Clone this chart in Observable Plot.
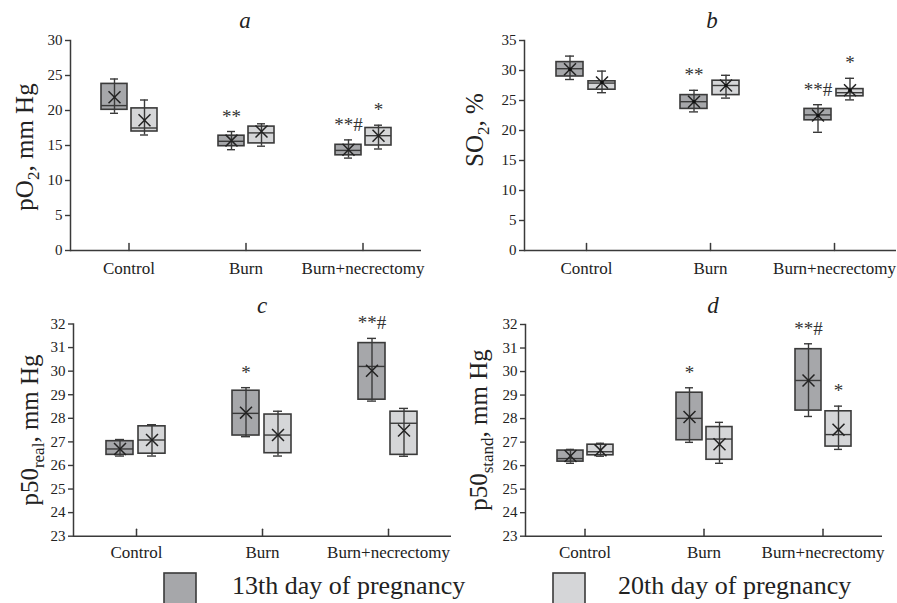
<!DOCTYPE html>
<html>
<head>
<meta charset="utf-8">
<script src="https://cdn.jsdelivr.net/npm/d3@7"></script>
<script src="https://cdn.jsdelivr.net/npm/@observablehq/plot@0.6"></script>
<style>
  html, body { margin: 0; padding: 0; background: #fff; overflow: hidden; }
  #fig { position: relative; width: 897px; height: 603px; overflow: hidden; font-family: "Liberation Serif", serif; }
  .pane { position: absolute; width: 470px; }
  .pane svg { max-width: none !important; }
  #overlay { position: absolute; left: 0; top: 0; pointer-events: none; }
</style>
</head>
<body>
<div id="fig"></div>
<script>
// ---------- data ----------
const groups = ["Control", "Burn", "Burn+necrectomy"];
const series = ["13th day of pregnancy", "20th day of pregnancy"];
// each row: [min, q1, median, q3, max, mean] for Control, Burn, Burn+necrectomy
const pO2_d13 = [[19.6, 20.1, 20.7, 23.8, 24.5, 21.9], [14.4, 14.9, 15.6, 16.4, 17.0, 15.7], [13.2, 13.6, 14.3, 15.1, 15.8, 14.4]];
const pO2_d20 = [[16.5, 17.0, 17.5, 20.3, 21.5, 18.6], [14.9, 15.3, 16.8, 17.7, 18.1, 17.0], [14.5, 15.0, 16.4, 17.5, 17.9, 16.4]];
const pO2_notes13 = ["", "**", "**#"];
const pO2_notes20 = ["", "", "*"];

const SO2_d13 = [[28.5, 29.0, 30.3, 31.4, 32.4, 30.2], [23.1, 23.6, 24.8, 25.9, 26.7, 24.8], [19.7, 21.7, 22.6, 23.6, 24.3, 22.5]];
const SO2_d20 = [[26.3, 26.8, 27.9, 28.2, 29.9, 28.0], [25.4, 25.9, 27.5, 28.3, 29.2, 27.5], [25.1, 25.7, 26.3, 26.9, 28.7, 26.7]];
const SO2_notes13 = ["", "**", "**#"];
const SO2_notes20 = ["", "", "*"];

const p50real_d13 = [[26.4, 26.45, 26.7, 27.03, 27.1, 26.7], [27.22, 27.27, 28.21, 29.17, 29.3, 28.24], [28.73, 28.79, 30.2, 31.19, 31.39, 30.02]];
const p50real_d20 = [[26.4, 26.5, 27.08, 27.66, 27.73, 27.08], [26.4, 26.52, 27.29, 28.16, 28.3, 27.29], [26.39, 26.45, 27.79, 28.28, 28.42, 27.48]];
const p50real_notes13 = ["", "*", "**#"];
const p50real_notes20 = ["", "", ""];

const p50stand_d13 = [[26.1, 26.17, 26.3, 26.64, 26.69, 26.41], [26.99, 27.08, 28.01, 29.1, 29.31, 28.07], [28.09, 28.34, 29.62, 30.95, 31.18, 29.62]];
const p50stand_d20 = [[26.4, 26.44, 26.59, 26.89, 26.95, 26.65], [26.1, 26.25, 27.13, 27.64, 27.84, 26.91], [26.69, 26.81, 27.32, 28.31, 28.53, 27.53]];
const p50stand_notes13 = ["", "*", "**#"];
const p50stand_notes20 = ["", "", "*"];

const yTicksA = [0, 5, 10, 15, 20, 25, 30];
const yTicksB = [0, 5, 10, 15, 20, 25, 30, 35];
const yTicksCD = [23, 24, 25, 26, 27, 28, 29, 30, 31, 32];

// ---------- styles ----------
const ink = "#3a3a3a";
const fills = ["#a6a7aa", "#d5d6d8"];

function makeRows(d13, d20, n13, n20) {
  const rows = [];
  groups.forEach((g, i) => {
    [[d13, n13, 0], [d20, n20, 1]].forEach(([d, n, s]) => {
      const [min, q1, median, q3, max, mean] = d[i];
      rows.push({group: g, series: series[s], min, q1, median, q3, max, mean, note: n[i]});
    });
  });
  return rows;
}

function panel(o) {
  const rows = makeRows(o.d13, o.d20, o.n13, o.n20);
  const tickShape = {draw(c, l) { c.moveTo(0, 0); c.lineTo(0, -l); }};
  const marks = [
    Plot.barY(rows, {fx: "group", x: "series", y1: "q1", y2: "q3", fill: "series", stroke: ink, strokeWidth: 1.6}),
    Plot.ruleX(rows, {fx: "group", x: "series", y1: "min", y2: "max", stroke: ink, strokeWidth: 1.4}),
    Plot.tickY(rows, {fx: "group", x: "series", y: "max", stroke: ink, strokeWidth: 1.4, insetLeft: 9, insetRight: 9}),
    Plot.tickY(rows, {fx: "group", x: "series", y: "min", stroke: ink, strokeWidth: 1.4, insetLeft: 9, insetRight: 9}),
    Plot.tickY(rows, {fx: "group", x: "series", y: "median", stroke: ink, strokeWidth: 1.4}),
    Plot.dot(rows, {fx: "group", x: "series", y: "mean", symbol: "times", r: 5.5, stroke: "#222", strokeWidth: 1.5}),
  ];
  if (o.centerDot) marks.push(Plot.dot(rows, {fx: "group", x: "series", y: "mean", r: 1.8, fill: "#111", stroke: null}));
  marks.push(
    Plot.text(rows.filter(d => d.note), {fx: "group", x: "series", y: "max", text: "note", lineAnchor: "bottom", dy: -9, fontSize: 19, fill: "#333"}),
    Plot.ruleY([o.yDomain[0]], {stroke: ink, strokeWidth: 1.5}),
    Plot.frame({anchor: "left", facetAnchor: "left", stroke: ink, strokeWidth: 1.5}),
    Plot.vector([0], {frameAnchor: "bottom", length: 7, anchor: "start", stroke: ink, strokeWidth: 1.5, shape: tickShape}),
    Plot.axisY({ticks: o.yTicks, tickSize: 5, tickPadding: 3, fontSize: 15, label: null, stroke: ink, strokeWidth: 1.4, tickFormat: d => String(d)}),
    Plot.axisFx({anchor: "bottom", tickSize: 0, tickPadding: o.fxPad, fontSize: 17, label: null})
  );
  return Plot.plot({
    width: o.width, height: o.height,
    marginLeft: o.ml, marginRight: o.mr, marginTop: o.mt, marginBottom: o.mb,
    style: {fontFamily: "Liberation Serif, serif", fontSize: "15px", color: "#222", background: "transparent", overflow: "visible", maxWidth: "none"},
    fx: {domain: groups, padding: 0, label: null},
    x: {domain: series, paddingInner: 0.15, paddingOuter: 1.0, axis: null},
    y: {domain: o.yDomain, axis: null},
    color: {domain: series, range: fills},
    marks
  });
}

const fig = document.getElementById("fig");
function place(el, left, top) {
  const div = document.createElement("div");
  div.className = "pane";
  div.style.left = left + "px";
  div.style.top = top + "px";
  div.appendChild(el);
  fig.appendChild(div);
}

// panel a: frame x 70..421, y 40..250
place(panel({d13: pO2_d13, d20: pO2_d20, n13: pO2_notes13, n20: pO2_notes20, yDomain: [0, 30], yTicks: yTicksA,
  width: 448, height: 290, ml: 70, mr: 27, mt: 40, mb: 40, fxPad: 11}), 0, 0);
// panel b: frame x 524..896, y 40..250
place(panel({d13: SO2_d13, d20: SO2_d20, n13: SO2_notes13, n20: SO2_notes20, yDomain: [0, 35], yTicks: yTicksB,
  width: 460, height: 290, ml: 74, mr: 14, mt: 40, mb: 40, fxPad: 11, centerDot: true}), 450, 0);
// panel c: frame x 72..451, y 323..536
place(panel({d13: p50real_d13, d20: p50real_d20, n13: p50real_notes13, n20: p50real_notes20, yDomain: [23, 32], yTicks: yTicksCD,
  width: 451, height: 290, ml: 72, mr: 0, mt: 33.5, mb: 44.3, fxPad: 10}), 0, 290);
// panel d: frame x 525..882, y 324..536
place(panel({d13: p50stand_d13, d20: p50stand_d20, n13: p50stand_notes13, n20: p50stand_notes20, yDomain: [23, 32], yTicks: yTicksCD,
  width: 447, height: 290, ml: 75, mr: 15, mt: 34, mb: 44.3, fxPad: 10}), 450, 290);

// ---------- overlay: panel letters, axis titles, legend ----------
const NS = "http://www.w3.org/2000/svg";
const ov = document.createElementNS(NS, "svg");
ov.setAttribute("id", "overlay");
ov.setAttribute("width", 897);
ov.setAttribute("height", 603);
ov.setAttribute("font-family", "Liberation Serif, serif");
fig.appendChild(ov);

function addText(parts, attrs) {
  const t = document.createElementNS(NS, "text");
  for (const k in attrs) t.setAttribute(k, attrs[k]);
  for (const p of parts) {
    const s = document.createElementNS(NS, "tspan");
    s.textContent = p.text;
    if (p.sub) { s.setAttribute("dy", p.dy); s.setAttribute("font-size", p.sub); }
    else if (p.dy) s.setAttribute("dy", p.dy);
    t.appendChild(s);
  }
  ov.appendChild(t);
  return t;
}

const letters = [["a", 245, 28], ["b", 712, 28], ["c", 262, 313], ["d", 713, 313]];
for (const [l, x, y] of letters)
  addText([{text: l}], {x, y, "text-anchor": "middle", "font-size": 23, "font-style": "italic", fill: "#222"});

const yTitleSize = 25;
addText([{text: "pO"}, {text: "2", sub: "17", dy: "6"}, {text: ", mm Hg", dy: "-6"}],
  {transform: "translate(33,147) rotate(-90)", "text-anchor": "middle", "font-size": yTitleSize, fill: "#222"});
addText([{text: "SO"}, {text: "2", sub: "17", dy: "6"}, {text: ", %", dy: "-6"}],
  {transform: "translate(483,130) rotate(-90)", "text-anchor": "middle", "font-size": yTitleSize, fill: "#222"});
addText([{text: "p50"}, {text: "real", sub: "17", dy: "6"}, {text: ", mm Hg", dy: "-6"}],
  {transform: "translate(38,430) rotate(-90)", "text-anchor": "middle", "font-size": yTitleSize, fill: "#222"});
addText([{text: "p50"}, {text: "stand", sub: "17", dy: "6"}, {text: ", mm Hg", dy: "-6"}],
  {transform: "translate(487,430) rotate(-90)", "text-anchor": "middle", "font-size": yTitleSize, fill: "#222"});

// legend
const legendPos = [[164, 232], [553, 618]];
series.forEach((s, i) => {
  const r = document.createElementNS(NS, "rect");
  r.setAttribute("x", legendPos[i][0]);
  r.setAttribute("y", 573);
  r.setAttribute("width", 32);
  r.setAttribute("height", 40);
  r.setAttribute("fill", fills[i]);
  r.setAttribute("stroke", ink);
  r.setAttribute("stroke-width", 1.6);
  ov.appendChild(r);
  addText([{text: s}], {x: legendPos[i][1], y: 594, "font-size": 26, fill: "#222"});
});
</script>
</body>
</html>
